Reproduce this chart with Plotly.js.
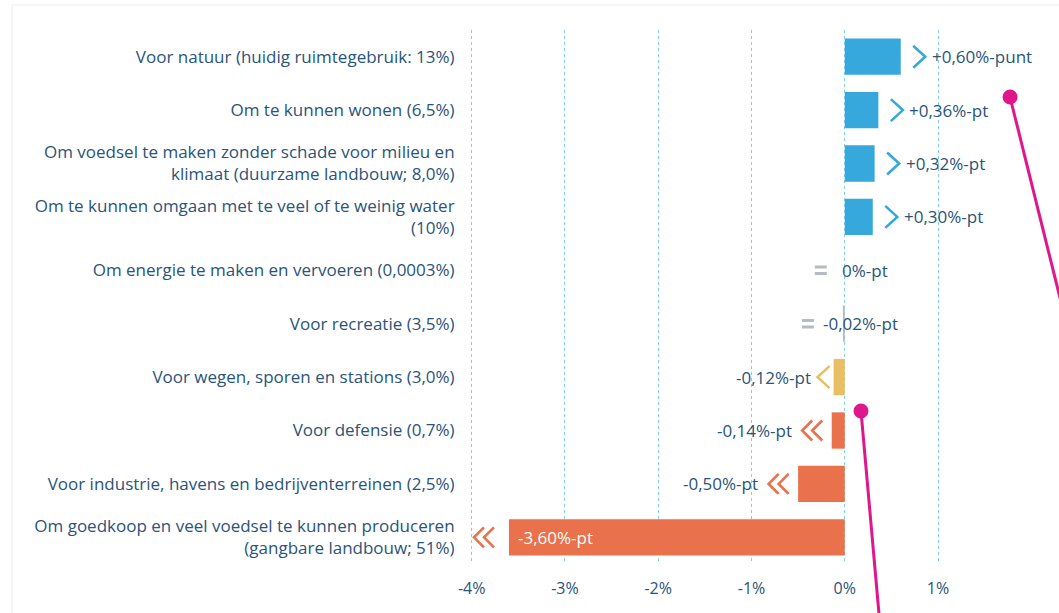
<!DOCTYPE html>
<html>
<head>
<meta charset="utf-8">
<script src="https://cdn.plot.ly/plotly-3.0.1.min.js"></script>
<style>
  html, body { margin: 0; padding: 0; background: #ffffff; }
  #chart { width: 1059px; height: 613px; }
</style>
</head>
<body>
<div id="chart"></div>
<script>
// ---- data ----
const categories = [
  "Voor natuur (huidig ruimtegebruik: 13%)",
  "Om te kunnen wonen (6,5%)",
  "Om voedsel te maken zonder schade voor milieu en<br>klimaat (duurzame landbouw; 8,0%)",
  "Om te kunnen omgaan met te veel of te weinig water<br>(10%)",
  "Om energie te maken en vervoeren (0,0003%)",
  "Voor recreatie (3,5%)",
  "Voor wegen, sporen en stations (3,0%)",
  "Voor defensie (0,7%)",
  "Voor industrie, havens en bedrijventerreinen (2,5%)",
  "Om goedkoop en veel voedsel te kunnen produceren<br>(gangbare landbouw; 51%)"
];
const changes = [0.60, 0.36, 0.32, 0.30, 0, -0.02, -0.12, -0.14, -0.50, -3.60];
const valueLabels = ["+0,60%-punt", "+0,36%-pt", "+0,32%-pt", "+0,30%-pt", "0%-pt",
                     "-0,02%-pt", "-0,12%-pt", "-0,14%-pt", "-0,50%-pt", "-3,60%-pt"];
const trends = ["up", "up", "up", "up", "flat", "flat", "down", "strongdown", "strongdown", "strongdown"];
const tickVals = [-4, -3, -2, -1, 0, 1];
const tickText = ["-4%", "-3%", "-2%", "-1%", "0%", "1%"];

// ---- styles ----
const TXT = "#2a5479";
const FONT = "Open Sans";
const FS = 17;
const trendColor = { up: "#36a8db", flat: "#b5bac3", down: "#eabf63", strongdown: "#e9714b" };

const barTrace = {
  type: "bar",
  orientation: "h",
  y: categories,
  x: changes,
  marker: { color: trends.map(t => trendColor[t]) },
  hoverinfo: "skip",
  showlegend: false
};

// glyph paths (pixels, relative to an anchor at bar end / row centre)
function chevronRight(cx) { return `M ${cx - 6},11 L ${cx + 6},0 L ${cx - 6},-11`; }
function chevronLeft(cx) { return `M ${cx + 6},11 L ${cx - 6},0 L ${cx + 6},-11`; }
function doubleLeft(cx) {
  return `M ${cx},10 L ${cx - 10},0 L ${cx},-10 M ${cx + 10},10 L ${cx},0 L ${cx + 10},-10`;
}
function equalsSign(cx) { return `M ${cx - 6},-3.2 L ${cx + 6},-3.2 M ${cx - 6},3.2 L ${cx + 6},3.2`; }

const annotations = [];
const glyphShapes = [];
categories.forEach((c, i) => {
  const v = changes[i], t = trends[i];
  const col = trendColor[t];
  const lblFont = { family: FONT, size: FS, color: TXT };
  let path, width = 2.6, lbl;
  if (t === "up") {
    path = chevronRight(18.5);
    lbl = { xanchor: "left", xshift: 29 };
  } else if (t === "flat") {
    path = equalsSign(v === 0 ? -24 : -35);
    width = 3;
    lbl = { xanchor: "left", xshift: v === 0 ? -5 : -22 };
  } else if (t === "down") {
    path = chevronLeft(-10);
    lbl = { xanchor: "right", xshift: -21 };
  } else if (v < -1) {
    path = doubleLeft(-25);
    lbl = { xanchor: "left", xshift: 7, white: true };
  } else {
    path = doubleLeft(-19.5);
    lbl = { xanchor: "right", xshift: -38 };
  }
  glyphShapes.push({
    type: "path", xref: "x", yref: "y",
    xsizemode: "pixel", ysizemode: "pixel",
    xanchor: v, yanchor: c,
    path: path,
    line: { color: col, width: width },
    fillcolor: "rgba(0,0,0,0)"
  });
  annotations.push({
    x: v, y: c, xref: "x", yref: "y", text: valueLabels[i], showarrow: false,
    xanchor: lbl.xanchor, xshift: lbl.xshift,
    font: lbl.white ? { family: FONT, size: FS, color: "#ffffff" } : lblFont
  });
});

// decorative pink pointer lines and card frame (paper coordinates)
const PINK = "#e0168b";
const shapes = glyphShapes.concat([
  { type: "rect", xref: "paper", yref: "paper", x0: -0.8198, x1: 1.2, y0: -0.2, y1: 1.0468,
    line: { color: "#eeeeee", width: 1 }, fillcolor: "rgba(0,0,0,0)", layer: "below" },
  { type: "line", xref: "paper", yref: "paper", x0: 0.9784, y0: 0.8745, x1: 1.0865, y1: 0.4232, line: { color: PINK, width: 3 } },
  { type: "circle", xref: "paper", yref: "paper", x0: 0.965, x1: 0.992, y0: 0.8605, y1: 0.8885, fillcolor: PINK, line: { width: 0 } },
  { type: "line", xref: "paper", yref: "paper", x0: 0.7099, y0: 0.2865, x1: 0.7441, y1: -0.114, line: { color: PINK, width: 3 } },
  { type: "circle", xref: "paper", yref: "paper", x0: 0.6964, x1: 0.7234, y0: 0.2725, y1: 0.3005, fillcolor: PINK, line: { width: 0 } }
]);

const layout = {
  width: 1059, height: 613,
  margin: { l: 467, r: 37, t: 30, b: 49 },
  paper_bgcolor: "#ffffff",
  plot_bgcolor: "#ffffff",
  bargap: 0.32,
  font: { family: FONT, color: TXT, size: FS },
  xaxis: {
    range: [-4.05, 1.9],
    tickvals: tickVals,
    ticktext: tickText,
    showgrid: true,
    gridcolor: "#86cbe8",
    griddash: "dot",
    gridwidth: 1,
    zeroline: false,
    showline: false,
    ticks: "outside", ticklen: 10, tickcolor: "rgba(0,0,0,0)",
    tickfont: { family: FONT, size: 16, color: TXT },
    fixedrange: true
  },
  yaxis: {
    autorange: "reversed",
    type: "category",
    showgrid: false,
    zeroline: false,
    showline: false,
    ticks: "outside", ticklen: 8, tickcolor: "rgba(0,0,0,0)",
    tickfont: { family: FONT, size: FS, color: TXT },
    fixedrange: true
  },
  annotations: annotations,
  shapes: shapes
};

Plotly.newPlot("chart", [barTrace], layout, { displayModeBar: false, staticPlot: true });
</script>
</body>
</html>
